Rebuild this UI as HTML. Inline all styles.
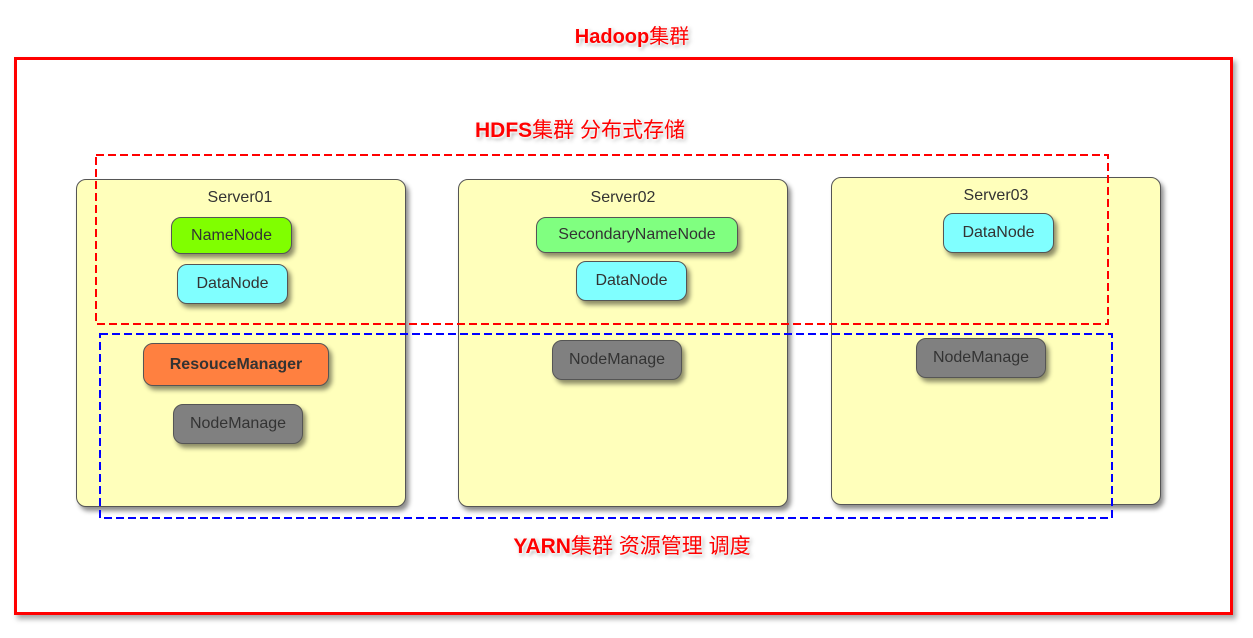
<!DOCTYPE html>
<html><head><meta charset="utf-8"><style>
html,body{margin:0;padding:0;background:#fff;width:1253px;height:638px;overflow:hidden;position:relative;font-family:"Liberation Sans","Noto Sans CJK SC",sans-serif}
.a{position:absolute;box-sizing:border-box}
.outer{left:14px;top:57px;width:1219px;height:558px;border:3px solid #f00;box-shadow:3px 4px 5px rgba(0,0,0,.35)}
.srv{background:#ffffbb;border:1px solid #555;border-radius:10px;box-shadow:3px 4px 5px rgba(0,0,0,.45);width:330px;height:328px}
.st{font-size:16px;color:#333;text-align:center;width:200px}
.n{border:1px solid #555;border-radius:10px;box-shadow:3px 4px 5px rgba(0,0,0,.45);font-size:16px;color:#333;display:flex;align-items:center;justify-content:center}
.t{color:#f00;font-weight:bold;font-size:21px;text-shadow:0 0 3px #fff,1px 1px 2px #fff,2px 2px 4px rgba(0,0,0,.4);white-space:nowrap;transform:translateX(-50%)}
.t span{font-weight:normal}
</style></head><body>
<div class="a outer"></div>
<div class="a t" style="left:632px;top:20px;font-size:20px">Hadoop<span>集群</span></div>
<div class="a t" style="left:580px;top:114px">HDFS<span>集群 分布式存储</span></div>
<div class="a t" style="left:632px;top:530px">YARN<span>集群 资源管理 调度</span></div>

<div class="a srv" style="left:76px;top:179px"></div>
<div class="a srv" style="left:458px;top:179px"></div>
<div class="a srv" style="left:831px;top:177px"></div>
<div class="a st" style="left:140px;top:189px">Server01</div>
<div class="a st" style="left:523px;top:189px">Server02</div>
<div class="a st" style="left:896px;top:187px">Server03</div>

<div class="a n" style="left:171px;top:217px;width:121px;height:37px;background:#80ff00">NameNode</div>
<div class="a n" style="left:177px;top:264px;width:111px;height:40px;background:#80ffff">DataNode</div>
<div class="a n" style="left:143px;top:343px;width:186px;height:43px;background:#ff8040;font-weight:bold">ResouceManager</div>
<div class="a n" style="left:173px;top:404px;width:130px;height:40px;background:#808080">NodeManage</div>
<div class="a n" style="left:536px;top:217px;width:202px;height:36px;background:#80ff80">SecondaryNameNode</div>
<div class="a n" style="left:576px;top:261px;width:111px;height:40px;background:#80ffff">DataNode</div>
<div class="a n" style="left:552px;top:340px;width:130px;height:40px;background:#808080">NodeManage</div>
<div class="a n" style="left:943px;top:213px;width:111px;height:40px;background:#80ffff">DataNode</div>
<div class="a n" style="left:916px;top:338px;width:130px;height:40px;background:#808080">NodeManage</div>

<svg class="a" style="left:0;top:0" width="1253" height="638">
<rect x="96" y="155" width="1012" height="169" fill="none" stroke="#f00" stroke-width="2" stroke-dasharray="8,4"/>
<rect x="100" y="334" width="1012" height="184" fill="none" stroke="#00f" stroke-width="2" stroke-dasharray="8,4"/>
</svg>
</body></html>
